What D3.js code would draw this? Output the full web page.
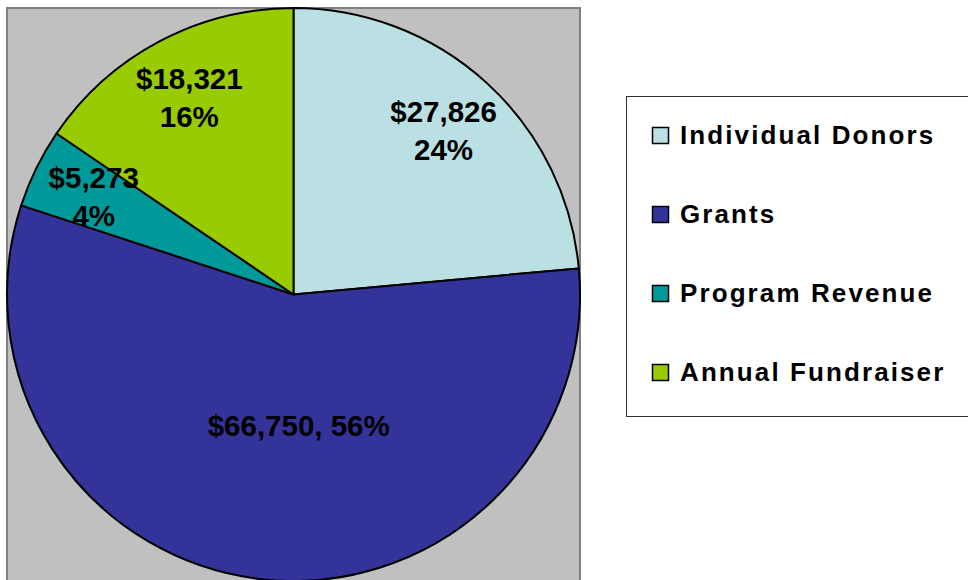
<!DOCTYPE html>
<html>
<head>
<meta charset="utf-8">
<script src="https://cdn.jsdelivr.net/npm/d3@7"></script>
<style>
  html, body { margin: 0; padding: 0; background: #fff; }
  svg { display: block; font-family: "Liberation Sans", Arial, sans-serif; }
</style>
</head>
<body>
<div id="chart"></div>
<script>
'use strict';

// revenue sources, clockwise from 12 o'clock
const categories = ['Individual Donors', 'Grants', 'Program Revenue', 'Annual Fundraiser'];
const amounts = [27826, 66750, 5273, 18321];
const colors = ['#BBE0E3', '#333399', '#009999', '#99CC00'];
// labels drawn on one line or two
const labelLines = [2, 1, 2, 2];

const width = 968, height = 580;
const cx = 293.5, cy = 294.5, radius = 286.5;

const svg = d3.select('#chart').append('svg')
    .attr('width', width)
    .attr('height', height);

// grey plot area
svg.append('rect')
    .attr('x', 7).attr('y', 8)
    .attr('width', 573).attr('height', 600)
    .attr('fill', '#C0C0C0')
    .attr('stroke', '#808080')
    .attr('stroke-width', 2);

const data = categories.map((c, i) => ({ name: c, value: amounts[i], color: colors[i], lines: labelLines[i] }));
const total = d3.sum(amounts);

const pie = d3.pie().sort(null).value(d => d.value);
const arcs = pie(data);

const arc = d3.arc().innerRadius(0).outerRadius(radius);

const g = svg.append('g').attr('transform', `translate(${cx},${cy})`);

g.selectAll('path.slice')
    .data(arcs)
    .join('path')
    .attr('class', 'slice')
    .attr('d', arc)
    .attr('fill', d => d.data.color)
    .attr('stroke', '#000')
    .attr('stroke-width', 2)
    .attr('stroke-linejoin', 'round');

const fmtMoney = v => '$' + d3.format(',')(v);
const fmtPct = v => Math.round(v / total * 100) + '%';

const outerLabelArc = d3.arc().innerRadius(radius * 0.777).outerRadius(radius * 0.777);
const innerLabelArc = d3.arc().innerRadius(radius * 0.46).outerRadius(radius * 0.46);

g.selectAll('text.label')
    .data(arcs)
    .join('text')
    .attr('class', 'label')
    .attr('text-anchor', 'middle')
    .attr('font-size', 29.5)
    .attr('font-weight', 'bold')
    .attr('fill', '#000')
    .each(function (d) {
        const t = d3.select(this);
        if (d.data.lines === 2) {
            const [x, y] = outerLabelArc.centroid(d);
            t.append('tspan').attr('x', x).attr('y', y - 8.5).text(fmtMoney(d.data.value));
            t.append('tspan').attr('x', x).attr('y', y + 29.5).text(fmtPct(d.data.value));
        } else {
            const [x, y] = innerLabelArc.centroid(d);
            t.append('tspan').attr('x', x + 20).attr('y', y + 10.5)
                .text(fmtMoney(d.data.value) + ', ' + fmtPct(d.data.value));
        }
    });

// legend
const legend = svg.append('g');
legend.append('rect')
    .attr('x', 626.5).attr('y', 96.5)
    .attr('width', 360).attr('height', 320)
    .attr('fill', '#fff')
    .attr('stroke', '#333')
    .attr('stroke-width', 1);

const rowY = d3.scalePoint().domain(categories).range([144, 381]);

const items = legend.selectAll('g.item')
    .data(data)
    .join('g')
    .attr('class', 'item')
    .attr('transform', d => `translate(0,${rowY(d.name)})`);

items.append('rect')
    .attr('x', 652.5).attr('y', -16.5)
    .attr('width', 16).attr('height', 16)
    .attr('fill', d => d.color)
    .attr('stroke', '#000')
    .attr('stroke-width', 1.5);

items.append('text')
    .attr('x', 680)
    .attr('y', 0)
    .attr('font-size', 26)
    .attr('font-weight', 'bold')
    .attr('letter-spacing', '2.1px')
    .attr('fill', '#000')
    .text(d => d.name);
</script>
</body>
</html>
